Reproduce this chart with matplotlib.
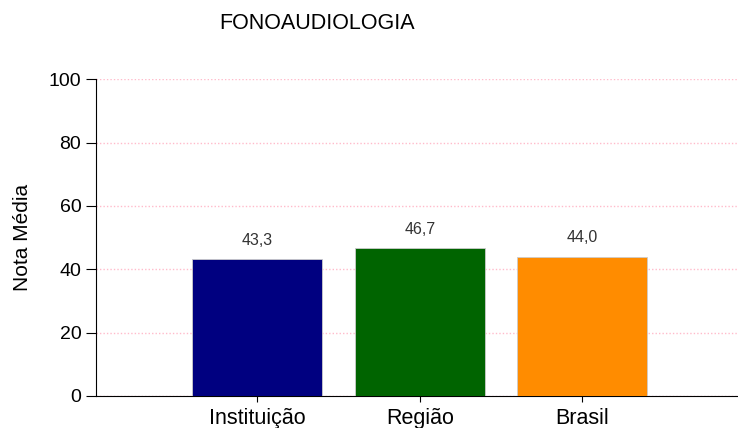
import matplotlib.pyplot as plt

plt.rcParams['font.family'] = ['Liberation Sans', 'DejaVu Sans']

categories = ['Instituição', 'Região', 'Brasil']
values = [43.3, 46.7, 44.0]
colors = ['#000080', '#006400', '#ff8c00']

fig = plt.figure(figsize=(7.38, 4.28), dpi=100)
ax = fig.add_axes([0.130, 0.075, 0.870, 0.740])

x = range(len(categories))
bars = ax.bar(x, values, width=0.8, color=colors, edgecolor='#cccccc', linewidth=0.6, zorder=3)

for b, v in zip(bars, values):
    ax.annotate(f'{v:.1f}'.replace('.', ','), (b.get_x() + b.get_width() / 2, v),
                xytext=(0, 8), textcoords='offset points', ha='center', va='bottom',
                fontsize=11.5, color='#333333')

ax.set_ylim(0, 100)
ax.set_xlim(-0.994, 2.96)
ax.set_yticks([0, 20, 40, 60, 80, 100])
ax.set_xticks(list(x))
ax.set_xticklabels(categories, fontsize=15.5)
ax.tick_params(axis='y', labelsize=14, length=7, direction='out')
ax.tick_params(axis='x', length=4, direction='out', pad=5)
ax.yaxis.grid(True, color='#ff9fb5', linestyle=(0, (1, 1.5)), linewidth=1.0, alpha=0.7, zorder=0)

ax.spines['top'].set_visible(False)
ax.spines['right'].set_visible(False)
ax.set_ylabel('Nota Média', fontsize=15, labelpad=12)

fig.text(0.43, 0.945, 'FONOAUDIOLOGIA', ha='center', va='center', fontsize=15.5)

fig.savefig('out.png', dpi=100)
